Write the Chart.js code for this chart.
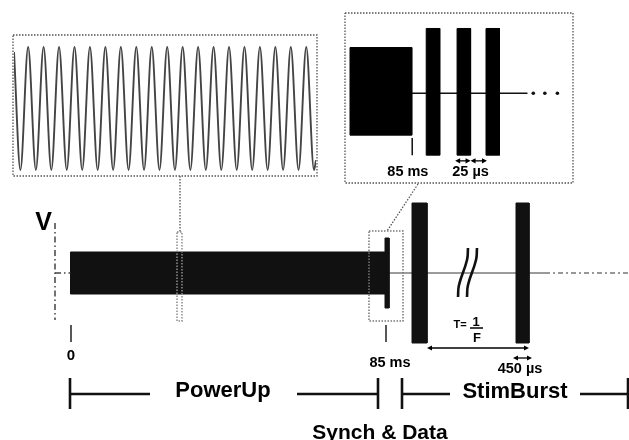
<!DOCTYPE html>
<html>
<head>
<meta charset="utf-8">
<script src="https://cdn.jsdelivr.net/npm/chart.js@4.4.1/dist/chart.umd.min.js"></script>
<style>
  html, body { margin: 0; padding: 0; background: #fff; }
  #wrap { position: relative; width: 629px; height: 440px; overflow: hidden; }
  canvas { position: absolute; }
  #main { left: 0; top: 0; }
  #sine { left: 14px; top: 36px; }
  #burst { left: 346px; top: 14px; }
</style>
</head>
<body>
<div id="wrap">
  <canvas id="main" width="629" height="440"></canvas>
  <canvas id="sine" width="302" height="139"></canvas>
  <canvas id="burst" width="226" height="168"></canvas>
</div>
<script>
// main timeline, x = time along the diagram, y = level above the baseline
const powerUpSpan = [70.5, 386];
const powerUpLevel = 21;
const synchSpan = [385, 389];
const synchLevel = 35;
const stimSpans = [[412, 427], [516, 529]];
const stimLevel = 70;
const baselineSolid = [389, 545];
const baselineDashed = [545, 629];
const vAxisX = 55;
const vAxisRange = [50, -47];
const zeroTicks = [71, 386];
const zeroTickRange = [-52, -69];
const breakMarks = [
  [[458, -24], [459, -12], [467, 13], [468, 25]],
  [[467, -24], [468, -12], [476, 13], [477, 25]]
];
const fractionBar = [470, 483, -55];
const mainArrows = [[427, 529, -75], [513, 532, -85]];

// phase brackets under the timeline
const bracketLevel = -121;
const bracketSegments = [[70, 150], [297, 378], [402, 450], [580, 628]];
const bracketTicks = [70, 378, 402, 628];
const bracketTickRange = [-105, -136];

// zoom boxes and their connectors
const sineBox = [13, 317, 238, 97];
const burstBox = [345, 573, 260, 90];
const sineMarker = [177, 182, 41, -48];
const synchMarker = [369, 403, 42, -48];
const sineConnector = [[180, 97], [180, 41]];
const burstConnector = [[418, 89], [387, 42]];

const mainLabels = [
  { text: 'V', x: 43.5, y: 43, size: 25 },
  { text: '0', x: 71, y: -87, size: 15 },
  { text: '85 ms', x: 390, y: -94, size: 14.5 },
  { text: '450 µs', x: 520, y: -100, size: 14.5 },
  { text: 'T=', x: 460, y: -54.5, size: 11 },
  { text: '1', x: 476, y: -53, size: 13 },
  { text: 'F', x: 477, y: -69, size: 13 },
  { text: 'PowerUp', x: 223, y: -124, size: 22 },
  { text: 'StimBurst', x: 515, y: -125, size: 22 },
  { text: 'Synch & Data', x: 380, y: -166, size: 21 }
];

// power-up carrier (zoomed): alternating troughs and peaks
const sineValues = [0.92,
  -1, 1, -1, 1, -1, 1, -1, 1, -1, 1, -1, 1, -1, 1, -1, 1, -1, 1, -1, 1,
  -1, 1, -1, 1, -1, 1, -1, 1, -1, 1, -1, 1, -1, 1, -1, 1, -1, 1, -1,
  -0.84];
const sineEnds = [-0.83, 38.26];

// synch & data burst (zoomed)
const burstBlock = [0, 64, 48, -44];
const burstPulses = [[79, 93], [111, 125], [141, 155]];
const burstLevel = [68, -65];
const burstBaseline = [64, 184];
const burstDots = [190, 202, 215];
const burstTick = [64.5, -47, -65];
const burstArrows = [[109, 125, -71], [125, 142, -71]];
const burstLabels = [
  { text: '85 ms', x: 60, y: -86.5, size: 14.5 },
  { text: '25 µs', x: 125, y: -86.5, size: 14.5 }
];

const FONT = '"Liberation Sans", Arial, Helvetica, sans-serif';

function rect(x1, x2, top, bottom, color, order) {
  return {
    data: [{ x: x1, y: top }, { x: x2, y: top }, { x: x2, y: bottom }, { x: x1, y: bottom }, { x: x1, y: top }],
    showLine: true, fill: 'shape', backgroundColor: color, borderColor: color,
    borderWidth: 1, pointRadius: 0, clip: false, order: order
  };
}

function line(points, color, width, dash, order) {
  return {
    data: points.map(p => ({ x: p[0], y: p[1] })),
    showLine: true, fill: false, borderColor: color, borderWidth: width,
    borderDash: dash || [], pointRadius: 0, clip: false, order: order || 5
  };
}

function box(b, color, width, order) {
  return line([[b[0], b[2]], [b[1], b[2]], [b[1], b[3]], [b[0], b[3]], [b[0], b[2]]], color, width, [1.5, 1.5], order);
}

// dotted zoom markers drawn on top of the filled pulses
function markerBox(ctx, x, y, b, color) {
  ctx.save();
  ctx.strokeStyle = color;
  ctx.lineWidth = 1.5;
  ctx.setLineDash([1.5, 1.5]);
  ctx.strokeRect(x.getPixelForValue(b[0]), y.getPixelForValue(b[2]),
    x.getPixelForValue(b[1]) - x.getPixelForValue(b[0]), y.getPixelForValue(b[3]) - y.getPixelForValue(b[2]));
  ctx.restore();
}

function overlay(labels, arrows, extra) {
  return {
    id: 'overlay',
    afterDatasetsDraw(chart) {
      const { ctx, scales: { x, y } } = chart;
      ctx.save();
      ctx.strokeStyle = '#000';
      ctx.fillStyle = '#000';
      ctx.lineWidth = 1.3;
      arrows.forEach(([x1, x2, yv]) => {
        const a = x.getPixelForValue(x1), b = x.getPixelForValue(x2), py = y.getPixelForValue(yv);
        ctx.beginPath();
        ctx.moveTo(a + 2, py);
        ctx.lineTo(b - 2, py);
        ctx.stroke();
        ctx.beginPath();
        ctx.moveTo(a, py); ctx.lineTo(a + 5, py - 2.6); ctx.lineTo(a + 5, py + 2.6); ctx.closePath();
        ctx.moveTo(b, py); ctx.lineTo(b - 5, py - 2.6); ctx.lineTo(b - 5, py + 2.6); ctx.closePath();
        ctx.fill();
      });
      if (extra) extra(ctx, x, y);
      ctx.textAlign = 'center';
      ctx.textBaseline = 'alphabetic';
      labels.forEach(l => {
        ctx.font = 'bold ' + l.size + 'px ' + FONT;
        ctx.fillText(l.text, x.getPixelForValue(l.x), y.getPixelForValue(l.y));
      });
      ctx.restore();
    }
  };
}

function options(xMin, xMax, yMin, yMax) {
  return {
    responsive: false,
    animation: false,
    devicePixelRatio: 1,
    events: [],
    layout: { padding: 0 },
    elements: { point: { radius: 0 }, line: { tension: 0 } },
    plugins: { legend: { display: false }, tooltip: { enabled: false } },
    scales: {
      x: { type: 'linear', min: xMin, max: xMax, display: false },
      y: { type: 'linear', min: yMin, max: yMax, display: false }
    }
  };
}

// ---- main chart ----
const mainSets = [];
mainSets.push(rect(powerUpSpan[0], powerUpSpan[1], powerUpLevel, -powerUpLevel, '#111', 10));
mainSets.push(rect(synchSpan[0], synchSpan[1], synchLevel, -synchLevel, '#111', 10));
stimSpans.forEach(s => mainSets.push(rect(s[0], s[1], stimLevel, -stimLevel, '#111', 10)));
mainSets.push(line([[baselineSolid[0], 0], [baselineSolid[1], 0]], '#7a7a7a', 1.6, null, 12));
mainSets.push(line([[baselineDashed[0], 0], [baselineDashed[1], 0]], '#777', 1.6, [5, 3, 2, 3], 12));
mainSets.push(line([[vAxisX, vAxisRange[0]], [vAxisX, vAxisRange[1]]], '#444', 1.5, [6, 3, 1.5, 3]));
mainSets.push(line([[vAxisX, 0], [powerUpSpan[0], 0]], '#444', 1.5, [6, 3, 1.5, 3]));
zeroTicks.forEach(t => mainSets.push(line([[t, zeroTickRange[0]], [t, zeroTickRange[1]]], '#222', 1.5)));
breakMarks.forEach(m => {
  const d = line(m, '#111', 2.6);
  d.tension = 0.45;
  mainSets.push(d);
});
bracketSegments.forEach(s => mainSets.push(line([[s[0], bracketLevel], [s[1], bracketLevel]], '#111', 2.6)));
bracketTicks.forEach(t => mainSets.push(line([[t, bracketTickRange[0]], [t, bracketTickRange[1]]], '#111', 2.6)));
mainSets.push(box(sineBox, '#555', 1.3, 1));
mainSets.push(box(burstBox, '#555', 1.3, 1));
mainSets.push(line(sineConnector, '#555', 1.3, [1.5, 1.5], 1));
mainSets.push(line(burstConnector, '#555', 1.3, [1.5, 1.5], 1));

new Chart(document.getElementById('main'), {
  type: 'scatter',
  data: { datasets: mainSets },
  options: options(0, 629, -167, 273),
  plugins: [overlay(mainLabels, mainArrows, (ctx, x, y) => {
    markerBox(ctx, x, y, sineMarker, '#8c8c8c');
    markerBox(ctx, x, y, synchMarker, '#777');
    ctx.lineWidth = 1.5;
    ctx.beginPath();
    ctx.moveTo(x.getPixelForValue(fractionBar[0]), y.getPixelForValue(fractionBar[2]));
    ctx.lineTo(x.getPixelForValue(fractionBar[1]), y.getPixelForValue(fractionBar[2]));
    ctx.stroke();
  })]
});

// ---- sine inset ----
const sinePoints = sineValues.map((v, i) => {
  let px = i - 1;
  if (i === 0) px = sineEnds[0];
  if (i === sineValues.length - 1) px = sineEnds[1];
  return { x: px, y: v };
});

new Chart(document.getElementById('sine'), {
  type: 'scatter',
  data: {
    datasets: [{
      data: sinePoints, showLine: true, borderColor: '#444', borderWidth: 1.9,
      cubicInterpolationMode: 'monotone', pointRadius: 0, fill: false, clip: false
    }]
  },
  options: options(sineEnds[0], sineEnds[1], -1.081, 1.179)
});

// ---- burst inset ----
const burstSets = [];
burstSets.push(rect(burstBlock[0], burstBlock[1], burstBlock[2], burstBlock[3], '#000', 10));
burstPulses.forEach(p => burstSets.push(rect(p[0], p[1], burstLevel[0], burstLevel[1], '#000', 10)));
burstSets.push(line([[burstBaseline[0], 0], [burstBaseline[1], 0]], '#111', 1.4, null, 12));
burstSets.push(line([[burstTick[0], burstTick[1]], [burstTick[0], burstTick[2]]], '#111', 1.5));
burstSets.push({
  data: burstDots.map(d => ({ x: d, y: 0 })), showLine: false,
  pointRadius: 1.8, pointBackgroundColor: '#111', pointBorderWidth: 0, clip: false
});

new Chart(document.getElementById('burst'), {
  type: 'scatter',
  data: { datasets: burstSets },
  options: options(0, 226, -89, 79),
  plugins: [overlay(burstLabels, burstArrows)]
});
</script>
</body>
</html>
